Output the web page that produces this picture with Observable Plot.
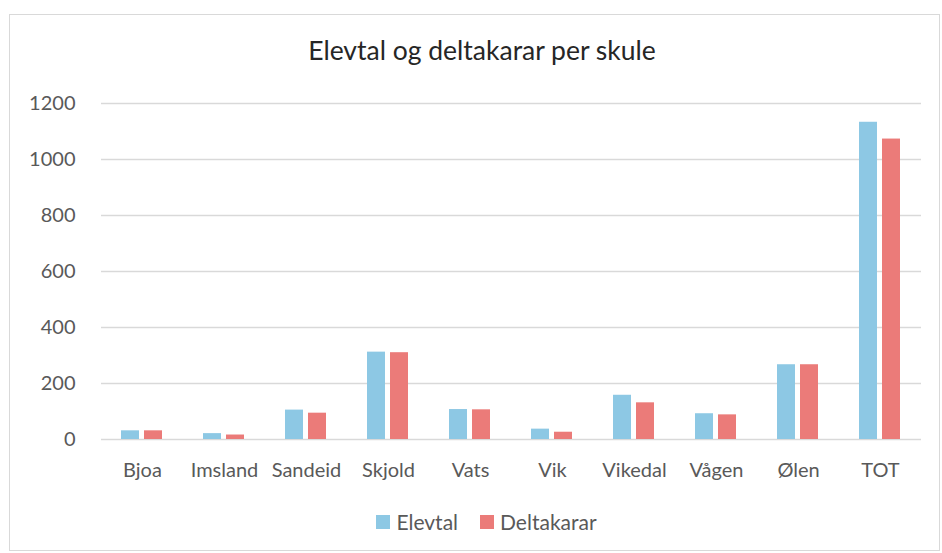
<!DOCTYPE html>
<html>
<head>
<meta charset="utf-8">
<script src="https://cdn.jsdelivr.net/npm/d3@7"></script>
<script src="https://cdn.jsdelivr.net/npm/@observablehq/plot@0.6"></script>
<style>
  html, body { margin:0; padding:0; background:#fff; }
  #wrap { position:relative; width:942px; height:553px; font-family: Lato, "Open Sans", sans-serif; }
  #border { position:absolute; left:9px; top:14px; width:931px; height:537px; border:1px solid #D9D9D9; box-sizing:border-box; }
  #title { position:absolute; left:0; width:964px; top:35px; text-align:center; font-size:26.5px; line-height:1.2; color:#262626; white-space:nowrap; }
  #chart { position:absolute; left:0; top:0; }
  #legend { position:absolute; left:0; width:973px; top:508px; text-align:center; font-size:21px; line-height:1.2; color:#595959; white-space:nowrap; }
  #legend span.item { display:inline-flex; align-items:center; margin:0 11px; }
  #legend span.sw { display:inline-block; width:14px; height:14px; margin-right:6px; }
</style>
</head>
<body>
<div id="wrap">
  <div id="border"></div>
  <div id="chart"></div>
  <div id="title">Elevtal og deltakarar per skule</div>
  <div id="legend"></div>
</div>
<script>
const schools = ["Bjoa","Imsland","Sandeid","Skjold","Vats","Vik","Vikedal","Vågen","Ølen","TOT"];
const elevtal = [31,21,105,312,107,37,158,92,267,1133];
const deltakarar = [31,16,94,310,106,26,131,88,267,1073];
const series = ["Elevtal","Deltakarar"];
const colors = ["#8DC8E4","#EB7B79"];
const yTicks = [0,200,400,600,800,1000,1200];

const data = [];
schools.forEach((s,i) => {
  data.push({school:s, series:series[0], value:elevtal[i]});
  data.push({school:s, series:series[1], value:deltakarar[i]});
});

const chart = Plot.plot({
  width:942, height:480,
  marginLeft:97, marginRight:17, marginTop:103, marginBottom:41,
  style:{fontFamily:"Lato, 'Open Sans', sans-serif", fontSize:"20px", color:"#595959", background:"transparent", overflow:"visible"},
  fx:{domain:schools, padding:0, axis:null},
  x:{domain:series, paddingInner:0.21, paddingOuter:0.85, axis:null},
  y:{domain:[0,1200], axis:null},
  color:{domain:series, range:colors},
  marks:[
    Plot.gridY(yTicks, {stroke:"#D9D9D9", strokeOpacity:1, strokeWidth:1.3}),
    Plot.axisY({ticks:yTicks, tickSize:0, tickPadding:26, tickFormat:d=>String(d), label:null, fontSize:20, fill:"#595959"}),
    Plot.axisFx({anchor:"bottom", tickSize:0, tickPadding:23, label:null, fontSize:20, fill:"#595959"}),
    Plot.barY(data, {fx:"school", x:"series", y:"value", fill:"series"})
  ]
});
document.getElementById("chart").appendChild(chart);

const leg = document.getElementById("legend");
series.forEach((s,i) => {
  const it = document.createElement("span");
  it.className = "item";
  const sw = document.createElement("span");
  sw.className = "sw";
  sw.style.background = colors[i];
  it.appendChild(sw);
  it.appendChild(document.createTextNode(s));
  leg.appendChild(it);
});
</script>
</body>
</html>
